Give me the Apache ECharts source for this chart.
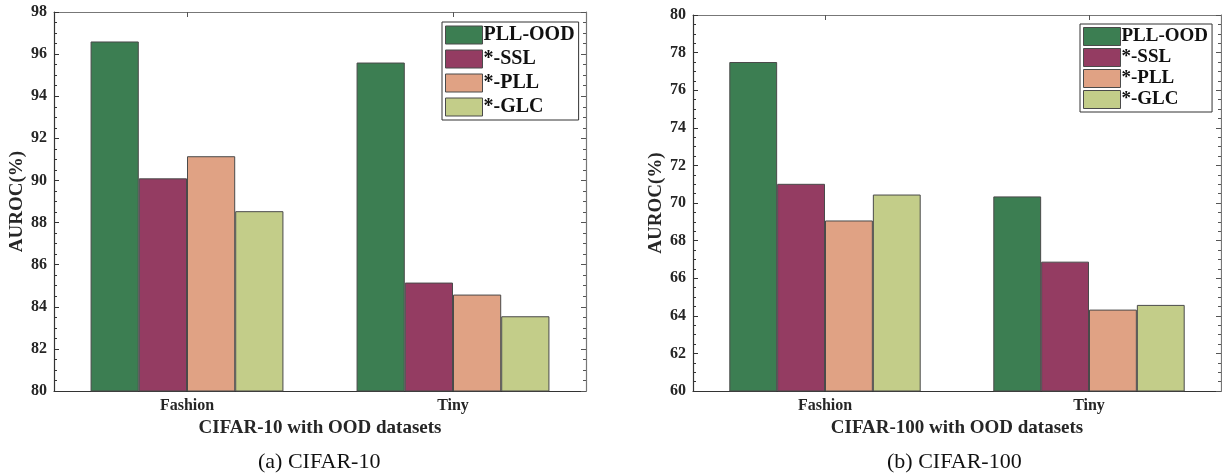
<!DOCTYPE html>
<html>
<head>
<meta charset="utf-8">
<script src="https://cdn.jsdelivr.net/npm/echarts@6/dist/echarts.min.js"></script>
<style>
  html, body { margin: 0; padding: 0; background: #fff; }
  #main { width: 1222px; height: 473px; }
</style>
</head>
<body>
<div id="main"></div>
<script>
// data
var categories = ["Fashion", "Tiny"];
var methods = ["PLL-OOD", "*-SSL", "*-PLL", "*-GLC"];
var colors = ["#3c7e52", "#943c62", "#e0a284", "#c3cd89"];

// CIFAR-10 AUROC(%)
var cifar10 = [
  [96.6, 95.6],   // PLL-OOD
  [90.1, 85.15],  // *-SSL
  [91.15, 84.58], // *-PLL
  [88.54, 83.55]  // *-GLC
];
// CIFAR-100 AUROC(%)
var cifar100 = [
  [77.5, 70.35],
  [71.02, 66.88],
  [69.07, 64.33],
  [70.45, 64.58]
];

var FONT = "'Liberation Serif', 'Times New Roman', serif";
var INK = "#262626";

function bottomX(grid, name) {
  return {
    type: "category", gridIndex: grid, data: categories, position: "bottom",
    name: name, nameLocation: "middle", nameGap: 28,
    nameTextStyle: { fontFamily: FONT, fontWeight: "bold", fontSize: 19, color: INK },
    axisLine: { lineStyle: { color: "#333", width: 1.2 } },
    axisTick: { show: true, inside: true, alignWithLabel: true, length: 5, lineStyle: { color: "#333" } },
    axisLabel: { fontFamily: FONT, fontWeight: "bold", fontSize: 16, color: INK, margin: 7 },
    splitLine: { show: false }
  };
}
function topX(grid) {
  return {
    type: "category", gridIndex: grid, data: categories, position: "top",
    axisLine: { lineStyle: { color: "#777", width: 1.2 } },
    axisTick: { show: true, inside: true, alignWithLabel: true, length: 5, lineStyle: { color: "#555" } },
    axisLabel: { show: false },
    splitLine: { show: false }
  };
}
function leftY(grid, min, max) {
  return {
    type: "value", gridIndex: grid, min: min, max: max, interval: 2, position: "left",
    name: "AUROC(%)", nameLocation: "middle", nameGap: 27,
    nameTextStyle: { fontFamily: FONT, fontWeight: "bold", fontSize: 19, color: INK },
    axisLine: { show: true, lineStyle: { color: "#333", width: 1.2 } },
    axisTick: { show: true, inside: true, length: 5, lineStyle: { color: "#333" } },
    minorTick: { show: true, splitNumber: 4, length: 3, lineStyle: { color: "#333" } },
    axisLabel: { fontFamily: FONT, fontWeight: "bold", fontSize: 16, color: INK, margin: 7 },
    splitLine: { show: false }
  };
}
function rightY(grid, min, max) {
  return {
    type: "value", gridIndex: grid, min: min, max: max, interval: 2, position: "right",
    axisLine: { show: true, lineStyle: { color: "#777", width: 1.2 } },
    axisTick: { show: true, inside: true, length: 5, lineStyle: { color: "#555" } },
    minorTick: { show: true, splitNumber: 4, length: 3, lineStyle: { color: "#555" } },
    axisLabel: { show: false },
    splitLine: { show: false }
  };
}

function makeSeries(values, xi, yi) {
  return methods.map(function (m, k) {
    return {
      name: m, type: "bar", xAxisIndex: xi, yAxisIndex: yi,
      data: values[k],
      barGap: "0%", barCategoryGap: "27.5%",
      itemStyle: { color: colors[k], borderColor: "#4a4a4a", borderWidth: 1 },
      emphasis: { disabled: true }
    };
  });
}

function makeLegend(grid, left, top, size, gap) {
  return {
    orient: "vertical", left: left, top: top,
    data: methods.map(function (m, k) {
      return { name: m, itemStyle: { color: colors[k], borderColor: "#4a4a4a", borderWidth: 1 } };
    }),
    icon: "rect", itemWidth: 37, itemHeight: 18, itemGap: gap,
    padding: [3, 4, 3, 3],
    backgroundColor: "#fff", borderColor: "#333", borderWidth: 1,
    textStyle: { fontFamily: FONT, fontWeight: "bold", fontSize: size, color: "#111", padding: [0, 0, 0, -4] },
    selectedMode: false
  };
}

var myChart = echarts.init(document.getElementById("main"));
var option = {
  animation: false,
  backgroundColor: "#fff",
  grid: [
    { left: 54, right: 636, top: 12, bottom: 82 },
    { left: 693, right: 1, top: 15, bottom: 82 }
  ],
  xAxis: [
    bottomX(0, "CIFAR-10 with OOD datasets"), topX(0),
    bottomX(1, "CIFAR-100 with OOD datasets"), topX(1)
  ],
  yAxis: [
    leftY(0, 80, 98), rightY(0, 80, 98),
    leftY(1, 60, 80), rightY(1, 60, 80)
  ],
  legend: [
    makeLegend(0, 442, 22, 20, 4),
    makeLegend(1, 1080, 24, 19, 2)
  ],
  series: makeSeries(cifar10, 0, 0).concat(makeSeries(cifar100, 2, 2)),
  graphic: [
    { type: "text", left: 320 - 62, top: 451,
      style: { text: "(a) CIFAR-10", font: "22px " + FONT, fill: "#111" } },
    { type: "text", left: 957 - 70, top: 451,
      style: { text: "(b) CIFAR-100", font: "22px " + FONT, fill: "#111" } }
  ]
};
myChart.setOption(option);
</script>
</body>
</html>
